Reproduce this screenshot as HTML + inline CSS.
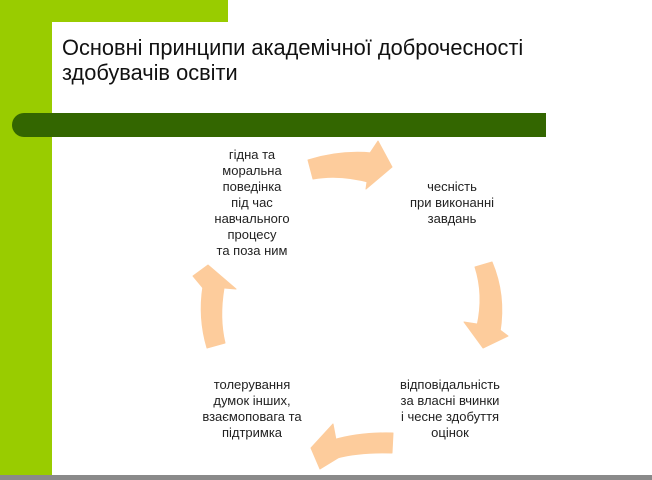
<!DOCTYPE html>
<html><head><meta charset="utf-8"><style>
body{margin:0;width:652px;height:480px;overflow:hidden;background:#fff;position:relative;font-family:"Liberation Sans",Arial,sans-serif;}
.g{position:absolute;background:#99cc00;}
.t{position:absolute;left:62px;top:35px;font-size:21.8px;line-height:25px;color:#111;}
.n{position:absolute;width:160px;text-align:center;font-size:13px;line-height:16px;color:#222;}
</style></head><body>
<div class="g" style="left:0;top:0;width:52px;height:476px"></div>
<div class="g" style="left:0;top:0;width:228px;height:22px"></div>
<div style="position:absolute;left:52px;top:22px;width:40px;height:40px;background:#fff;border-top-left-radius:22px"></div>
<div class="t">Основні принципи академічної доброчесності<br>здобувачів освіти</div>
<div style="position:absolute;left:12px;top:113px;width:534px;height:24px;background:#336600;border-radius:12px 0 0 12px"></div>
<div style="position:absolute;left:0;top:475px;width:652px;height:5px;background:#8a8a8a"></div>
<svg width="652" height="480" style="position:absolute;left:0;top:0">
<g fill="#fdcc9c" stroke="#fdcc9c" stroke-width="1" stroke-linejoin="round">
<path d="M308,160 Q340,150 372,153 L372,183 Q340,174 313,179 Z"/>
<polygon points="370,153 378,141 392,167 366,189 367,182"/>
<path d="M475,267 L492,262 Q506,295 500,332 L477,326 Q484,295 475,267 Z"/>
<polygon points="477,324 464,322 483,348 508,336 500,330"/>
<path d="M393,433 L392,453 Q360,452 337,458 L333,440 Q360,432 393,433 Z"/>
<polygon points="336,440 333,424 311,448 320,469 338,458"/>
<path d="M207,348 Q198,318 203,286 L224,288 Q219,318 225,343 Z"/>
<polygon points="203,288 193,276 208,265 236,289 224,288"/>
</g></svg>
<div class="n" style="left:172px;top:147px">гідна та<br>моральна<br>поведінка<br>під час<br>навчального<br>процесу<br>та поза ним</div>
<div class="n" style="left:372px;top:179px">чесність<br>при виконанні<br>завдань</div>
<div class="n" style="left:370px;top:377px">відповідальність<br>за власні вчинки<br>і чесне здобуття<br>оцінок</div>
<div class="n" style="left:172px;top:377px">толерування<br>думок інших,<br>взаємоповага та<br>підтримка</div>
</body></html>
